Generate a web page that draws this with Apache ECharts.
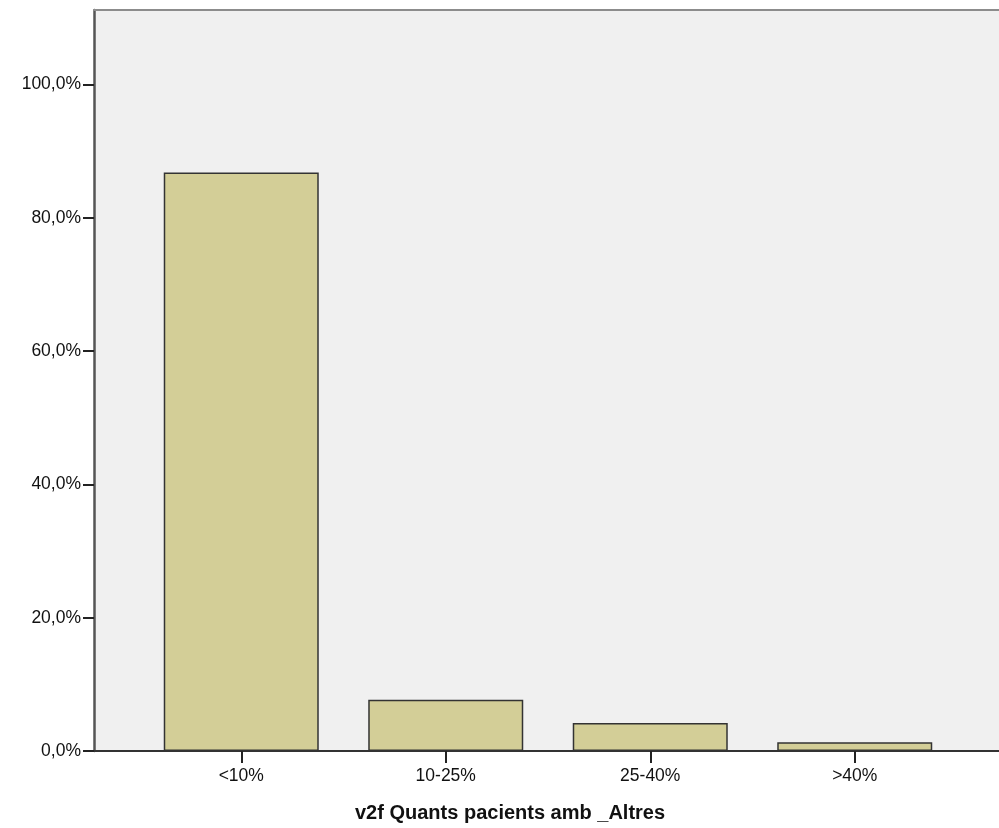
<!DOCTYPE html>
<html>
<head>
<meta charset="utf-8">
<script src="https://cdn.jsdelivr.net/npm/echarts@6/dist/echarts.min.js"></script>
<style>
html,body{margin:0;padding:0;background:#fff;}
#chart{width:999px;height:828px;}
</style>
</head>
<body>
<div id="chart"></div>
<script>
const categories = ['<10%', '10-25%', '25-40%', '>40%'];
const percentValues = [86.8, 7.7, 4.2, 1.3];
const yTickValues = [0, 20, 40, 60, 80, 100];
const xAxisTitle = 'v2f Quants pacients amb _Altres';

const FONT = "'Liberation Sans', Arial, sans-serif";
const fmt = v => v.toFixed(1).replace('.', ',') + '%';

const chart = echarts.init(document.getElementById('chart'), null, {renderer: 'canvas'});
chart.setOption({
  animation: false,
  backgroundColor: '#ffffff',
  grid: [
    {left: 94, right: 0, top: 10, bottom: 77, show: true, backgroundColor: '#f0f0f0', borderWidth: 0},
    {left: 139, width: 818, top: 10, bottom: 77}
  ],
  xAxis: [
    {gridIndex: 0, type: 'value', min: 0, max: 1,
     axisLine: {show: true, lineStyle: {color: '#333', width: 2}},
     axisTick: {show: false}, axisLabel: {show: false}, splitLine: {show: false}},
    {gridIndex: 1, type: 'category', data: categories,
     axisLine: {show: false},
     axisTick: {show: true, alignWithLabel: true, length: 12, lineStyle: {color: '#222', width: 2}},
     axisLabel: {color: '#111', fontSize: 17.5, fontFamily: FONT, margin: 16},
     splitLine: {show: false}},
    {gridIndex: 0, type: 'value', position: 'top', min: 0, max: 1,
     axisLine: {show: true, lineStyle: {color: '#8c8c8c', width: 2}},
     axisTick: {show: false}, axisLabel: {show: false}, splitLine: {show: false}}
  ],
  yAxis: [
    {gridIndex: 0, type: 'value', min: 0, max: 111.2, interval: 20,
     axisLine: {show: true, lineStyle: {color: '#555', width: 2.5}},
     axisTick: {show: true, length: 11, lineStyle: {color: '#222', width: 2}, customValues: yTickValues},
     axisLabel: {color: '#111', fontSize: 17.5, fontFamily: FONT, margin: 13, formatter: fmt, customValues: yTickValues},
     splitLine: {show: false}},
    {gridIndex: 1, type: 'value', min: 0, max: 111.2, show: false}
  ],
  series: [{
    type: 'bar',
    xAxisIndex: 1, yAxisIndex: 1,
    data: percentValues,
    barWidth: '75.8%',
    itemStyle: {color: '#d3ce97', borderColor: '#333', borderWidth: 1.5}
  }],
  graphic: [{
    type: 'text', left: 355, top: 803,
    style: {text: xAxisTitle, fill: '#111', font: "bold 20px 'Liberation Sans', Arial, sans-serif"}
  }]
});
</script>
</body>
</html>
